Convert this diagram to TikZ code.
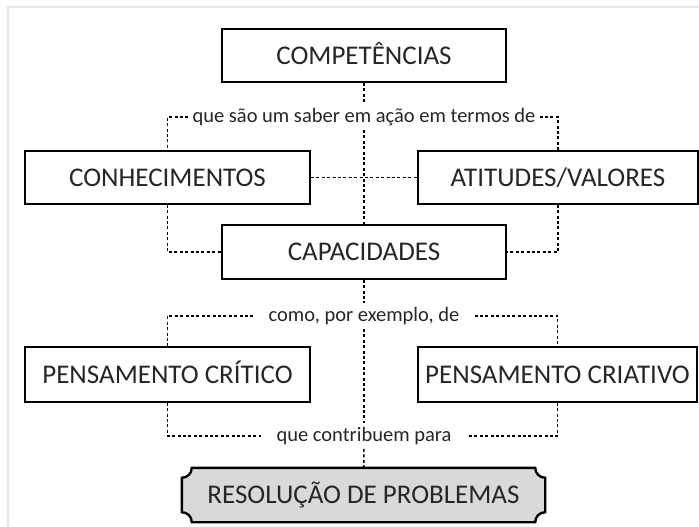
\documentclass[tikz,border=0pt]{standalone}
\usepackage{fontspec}
\setmainfont{Carlito}
\usepackage{xcolor}
\usepackage{tikz}
\usetikzlibrary{backgrounds}

\begin{document}
\begin{tikzpicture}[
  x=1pt, y=1pt,
  box/.style={draw, line width=1.6, minimum width=284, minimum height=53, text height=17.4, text depth=0, text=black!85, font=\fontsize{27}{32}\selectfont},
  lab/.style={inner xsep=15, inner ysep=4, text=black!85, font=\fontsize{20.5}{24}\selectfont},
  lnk/.style={line width=1.5, dash pattern=on 3 off 2.4},
]
\useasboundingbox (0,0) rectangle (699,-527);
\draw [gray!20, line width=2] (8,-527) |- (699,-7);

\node [box] (comp) at (364,-55.5) {COMPETÊNCIAS};
\node [lab, inner xsep=4] (lsaber) at (364,-117) {que são um saber em ação em termos de};
\node [box, minimum width=285.5] (conh) at (167.5,-177.5) {CONHECIMENTOS};
\node [box, minimum width=280] (atit) at (558,-177.5) {ATITUDES/VALORES};
\node [box, minimum height=54] (capa) at (364,-252) {CAPACIDADES};
\node [lab] (lexemplo) at (364,-316) {como, por exemplo, de};
\node [box, minimum width=285.5, minimum height=55] (crit) at (167.5,-374.5) {PENSAMENTO CRÍTICO};
\node [box, minimum width=279, minimum height=55] (criat) at (557.5,-374.5) {PENSAMENTO CRIATIVO};
\node [lab] (lcontrib) at (364,-436) {que contribuem para};
\node [minimum width=363, minimum height=54, text height=17.4, text depth=0, text=black!85, font=\fontsize{27}{32}\selectfont] (reso) at (363.5,-495) {RESOLUÇÃO DE PROBLEMAS};

% scalloped frame
\begin{scope}[on background layer]
\draw [line width=2.4, fill=gray!30]
  ([yshift=-10]reso.north west) arc [start angle=-90, end angle=0, radius=10]
  -- ([xshift=-10]reso.north east) arc [start angle=180, end angle=270, radius=10]
  -- ([yshift=10]reso.south east) arc [start angle=90, end angle=180, radius=10]
  -- ([xshift=10]reso.south west) arc [start angle=0, end angle=90, radius=10]
  -- cycle;
\end{scope}

\draw [lnk] (comp) -- (lsaber);
\draw [lnk] (lsaber.west) -| (conh.north);
\draw [lnk] (lsaber.east) -| (atit.north);
\draw [lnk] (lsaber) -- (capa);
\draw [lnk] (conh) -- (atit);
\draw [lnk] (conh.south) |- (capa.west);
\draw [lnk] (atit.south) |- (capa.east);

\draw [lnk] (capa) -- (lexemplo);
\draw [lnk] (lexemplo.west) -| (crit.north);
\draw [lnk] (lexemplo.east) -| (criat.north);
\draw [lnk] (lexemplo) -- (lcontrib);
\draw [lnk] (crit.south) |- (lcontrib.west);
\draw [lnk] (criat.south) |- (lcontrib.east);
\draw [lnk] (lcontrib) -- (reso);
\end{tikzpicture}
\end{document}
